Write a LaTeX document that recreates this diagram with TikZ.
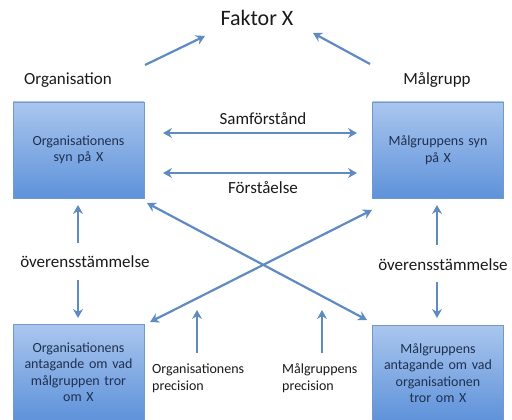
\documentclass[tikz,border=0pt]{standalone}
\usepackage{fontspec}
\setmainfont{Carlito}
\usetikzlibrary{arrows.meta}
\definecolor{arr}{HTML}{5F8BC2}
\definecolor{boxtop}{HTML}{AAC6EE}
\definecolor{boxbot}{HTML}{5E92DA}
\definecolor{boxline}{HTML}{7399CC}
\definecolor{boxtext}{HTML}{1F3050}
\definecolor{lbl}{HTML}{1A1A1A}
\tikzset{
  box/.style={draw=boxline, line width=0.6pt, top color=boxtop, bottom color=boxbot,
    minimum width=131pt, minimum height=96pt, inner sep=2pt, text width=127pt, align=center,
    text=boxtext, font=\fontsize{14}{16.5}\selectfont},
  con/.style={draw=arr, line width=2.2pt, -{Stealth[length=9pt,width=10pt,inset=3pt]}},
  dcon/.style={draw=arr, line width=2.2pt, {Stealth[length=9pt,width=10pt,inset=3pt]}-{Stealth[length=9pt,width=10pt,inset=3pt]}},
  lab/.style={text=lbl, font=\fontsize{17}{20}\selectfont, inner sep=1pt},
  small/.style={text=lbl, font=\fontsize{14}{17}\selectfont, inner sep=0pt, align=left}
}
\begin{document}
\begin{tikzpicture}[x=1pt,y=-1pt]
\useasboundingbox (0,0) rectangle (512,420);
\node[box] (tl) at (78.5,150) {Organisationens\\syn på X};
\node[box] (tr) at (438,150) {Målgruppens syn\\på X};
\node[box] (bl) at (78.5,372) {Organisationens\\antagande om vad\\målgruppen tror\\om X};
\node[box] (br) at (438,373) {Målgruppens\\antagande om vad\\organisationen\\tror om X};
\node[lab, font=\fontsize{22}{24}\selectfont] (fx) at (257,18) {Faktor X};
\node[lab] (org) at (68,80) {Organisation};
\node[lab] (mal) at (437,80) {Målgrupp};
\node[lab] (sam) at (263,119) {Samförstånd};
\node[lab] (for) at (263,188) {Förståelse};
\node[lab] (ovl) at (85,262) {överensstämmelse};
\node[lab] (ovr) at (443,265) {överensstämmelse};
\node[small, anchor=west] (op) at (152,378) {Organisationens\\precision};
\node[small, anchor=west] (mp) at (282,378) {Målgruppens\\precision};
% Faktor X arrows
\coordinate (fa1) at (145,65); \coordinate (fa2) at (205,36);
\coordinate (fb1) at (370,64); \coordinate (fb2) at (313,33);
\draw[con] (fa1) -- (fa2);
\draw[con] (fb1) -- (fb2);
% horizontal double arrows
\coordinate (s1) at (163,133); \coordinate (s2) at (357,133);
\coordinate (f1) at (163,173); \coordinate (f2) at (357,173);
\draw[dcon] (s1) -- (s2);
\draw[dcon] (f1) -- (f2);
% verticals
\coordinate (vl1) at (78,243); \coordinate (vl2) at (78,205);
\coordinate (vl3) at (78,280); \coordinate (vl4) at (78,318);
\coordinate (vr1) at (437,245); \coordinate (vr2) at (437,205);
\coordinate (vr3) at (437,282); \coordinate (vr4) at (437,318);
\draw[con] (vl1) -- (vl2);
\draw[con] (vl3) -- (vl4);
\draw[con] (vr1) -- (vr2);
\draw[con] (vr3) -- (vr4);
% crossing arrows
\coordinate (c1) at (147,203); \coordinate (c2) at (367,320);
\coordinate (c3) at (150,322); \coordinate (c4) at (372,210);
\draw[dcon] (c1) -- (c2);
\draw[dcon] (c3) -- (c4);
% precision arrows
\coordinate (p1) at (197,353); \coordinate (p2) at (197,310);
\coordinate (p3) at (322,353); \coordinate (p4) at (322,310);
\draw[con] (p1) -- (p2);
\draw[con] (p3) -- (p4);
\end{tikzpicture}
\end{document}
